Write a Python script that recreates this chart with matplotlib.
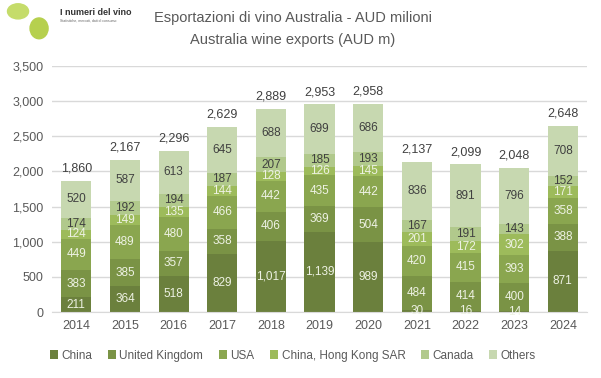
import numpy as np
import matplotlib.pyplot as plt
from matplotlib.patches import Ellipse

plt.rcParams['font.family'] = ['Liberation Sans Narrow', 'Liberation Sans', 'DejaVu Sans']

years = ["2014", "2015", "2016", "2017", "2018", "2019", "2020", "2021", "2022", "2023", "2024"]
series_names = ["China", "United Kingdom", "USA", "China, Hong Kong SAR", "Canada", "Others"]

china = [211, 364, 518, 829, 1017, 1139, 989, 30, 16, 14, 871]
uk = [383, 385, 357, 358, 406, 369, 504, 484, 414, 400, 388]
usa = [449, 489, 480, 466, 442, 435, 442, 420, 415, 393, 358]
hong_kong = [124, 149, 135, 144, 128, 126, 145, 201, 172, 302, 171]
canada = [174, 192, 194, 187, 207, 185, 193, 167, 191, 143, 152]
others = [520, 587, 613, 645, 688, 699, 686, 836, 891, 796, 708]
totals = [1860, 2167, 2296, 2629, 2889, 2953, 2958, 2137, 2099, 2048, 2648]

colors = ["#6b803d", "#7a9345", "#8aa64f", "#9dbb5b", "#b1c98c", "#c7d8b0"]
label_colors = ["#eef2e4", "#eef2e4", "#eef2e4", "#eef2e4", "#404040", "#404040"]

fig = plt.figure(figsize=(6.01, 3.78), dpi=100)
ax = fig.add_axes([0.0865, 0.1746, 0.8905, 0.6508])

x = np.arange(len(years))
width = 0.62
bottom = np.zeros(len(years))
all_series = [china, uk, usa, hong_kong, canada, others]

for vals, name, col, lc in zip(all_series, series_names, colors, label_colors):
    vals = np.array(vals)
    ax.bar(x, vals, width, bottom=bottom, color=col, label=name, zorder=2)
    for xi, b, v in zip(x, bottom, vals):
        ax.text(xi, b + v / 2, f"{v:,}", ha='center', va='center',
                fontsize=8.5, color=lc, zorder=3)
    bottom += vals

for xi, b, t in zip(x, bottom, totals):
    ax.text(xi, b + 90, f"{t:,}", ha='center', va='bottom', fontsize=9, color='#404040')

ax.set_xlim(-0.5, len(years) - 0.5)
ax.set_ylim(0, 3500)
ax.set_yticks(np.arange(0, 3501, 500))
ax.set_yticklabels([f"{v:,}" for v in range(0, 3501, 500)])
ax.set_xticks(x)
ax.set_xticklabels(years)
ax.grid(axis='y', color='#d9d9d9', linewidth=1, zorder=0)
for s in ['top', 'right', 'left']:
    ax.spines[s].set_visible(False)
ax.spines['bottom'].set_color('#d9d9d9')
ax.tick_params(axis='both', length=0, labelsize=9, labelcolor='#595959', pad=6)

ax.legend(loc='upper center', bbox_to_anchor=(0.45, -0.11), ncol=6, frameon=False,
          fontsize=8.5, handlelength=0.7, handleheight=0.7, handletextpad=0.3,
          columnspacing=1.3, labelcolor='#595959')

fig.text(0.487, 0.953, "Esportazioni di vino Australia - AUD milioni", ha='center', va='center',
         fontsize=10.5, color='#595959')
fig.text(0.487, 0.893, "Australia wine exports (AUD m)", ha='center', va='center',
         fontsize=10.5, color='#595959')

# logo
fig.patches.append(Ellipse((0.03, 0.97), 0.035, 0.04, transform=fig.transFigure,
                           color='#c5dc6a', figure=fig))
fig.patches.append(Ellipse((0.065, 0.925), 0.03, 0.055, transform=fig.transFigure,
                           color='#b6d04e', figure=fig))
fig.text(0.1, 0.968, "I numeri del vino", fontsize=6.5, fontweight='bold', color='#333333',
         va='center')
fig.text(0.1, 0.945, "Statistiche, mercati, dati di consumo", fontsize=2.5, color='#666666',
         va='center')

fig.savefig("out.png", dpi=100)
